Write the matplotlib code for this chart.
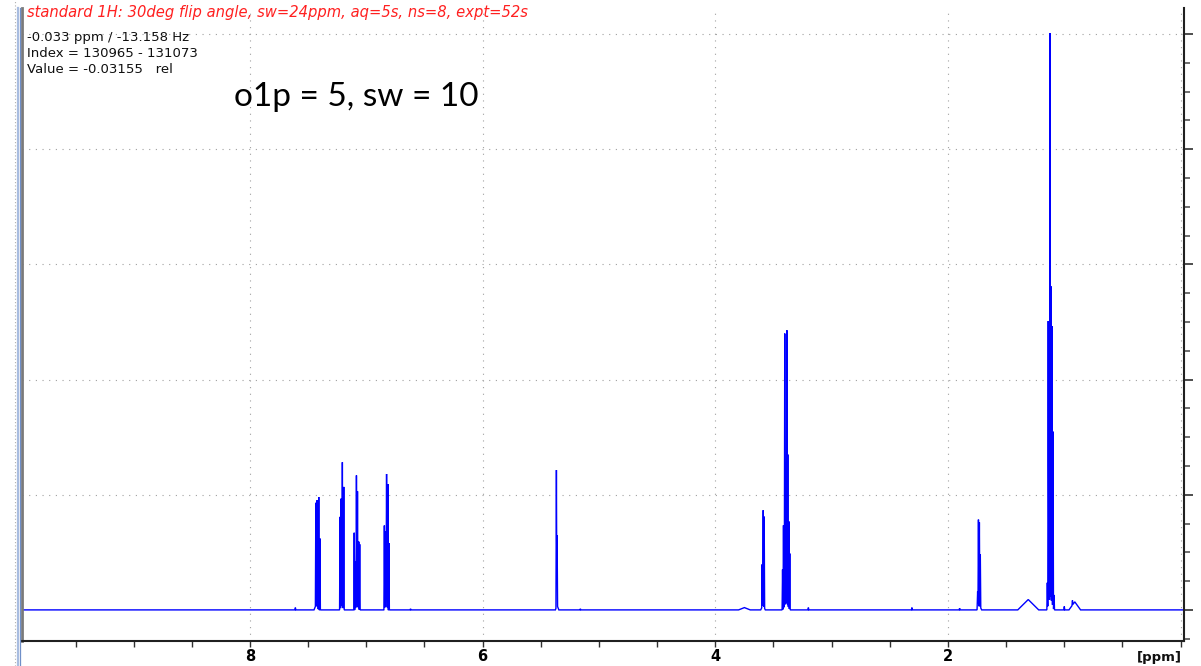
import numpy as np
import matplotlib
matplotlib.use("Agg")
import matplotlib.pyplot as plt
from matplotlib.ticker import MultipleLocator
from matplotlib.lines import Line2D

# --- spectrum data (chemical shift in ppm, intensity in relative units) ---
# sharp resonance lines (height above the broad foot underneath)
line_ppm = [
    7.610,
    7.434, 7.426, 7.418, 7.409, 7.399,
    7.226, 7.217, 7.206, 7.194,
    7.104, 7.096, 7.085, 7.076, 7.065, 7.057,
    6.845, 6.833, 6.826, 6.815, 6.806,
    6.620,
    5.366, 5.360,
    5.160,
    3.597, 3.588, 3.580,
    3.422, 3.414, 3.403, 3.394, 3.385, 3.377, 3.368, 3.360,
    3.200,
    2.310, 1.900,
    1.745, 1.738, 1.730, 1.722,
    1.146, 1.138, 1.132, 1.123, 1.115, 1.106, 1.097, 1.088,
    1.000, 0.930,
]
line_height = [
    0.02,
    0.89, 0.91, 0.93, 0.98, 0.62,
    0.80, 0.94, 1.25, 1.06,
    0.67, 0.41, 1.13, 0.99, 0.58, 0.57,
    0.72, 0.64, 1.14, 1.08, 0.58,
    0.01,
    1.19, 0.61,
    0.01,
    0.37, 0.83, 0.79,
    0.35, 0.72, 2.36, 1.22, 2.37, 1.31, 0.75, 0.49,
    0.02,
    0.02, 0.015,
    0.15, 0.76, 0.72, 0.46,
    0.22, 2.46, 1.28, 4.90, 2.71, 2.40, 1.52, 0.13,
    0.03, 0.04,
]

# broad features under and between the lines
hump_ppm = [7.43, 7.21, 7.08, 6.83, 5.36, 3.75, 3.59, 3.39, 1.73, 1.31, 1.12, 0.91]
hump_height = [0.05, 0.04, 0.05, 0.05, 0.04, 0.02, 0.04, 0.07, 0.04, 0.09, 0.12, 0.07]
hump_halfwidth = [0.02, 0.02, 0.02, 0.02, 0.015, 0.05, 0.02, 0.03, 0.02, 0.09, 0.03, 0.05]

line_halfwidth = 0.004

# x tick labels
major_ticks = [8, 6, 4, 2]
major_labels = ["8", "6", "4", "2"]

title_text = "standard 1H: 30deg flip angle, sw=24ppm, aq=5s, ns=8, expt=52s"
cursor_lines = ["-0.033 ppm / -13.158 Hz",
                "Index = 130965 - 131073",
                "Value = -0.03155   rel"]
note_text = "o1p = 5, sw = 10"

# --- build the trace as a sum of triangular line shapes ---
shapes = [(c, h, line_halfwidth) for c, h in zip(line_ppm, line_height)]
shapes += list(zip(hump_ppm, hump_height, hump_halfwidth))
knots = {10.0, -0.05}
for c, h, w in shapes:
    knots.update((c - w, c, c + w))
x = np.array(sorted(knots))
y = np.zeros_like(x)
for c, h, w in shapes:
    y += np.interp(x, [c - w, c, c + w], [0.0, h, 0.0])

W, H = 1201, 666
fig = plt.figure(figsize=(W / 100, H / 100), dpi=100)
fig.patch.set_facecolor("white")

L, R, B, T = 22, 1184, 641, 8
ax = fig.add_axes([L / W, 1 - B / H, (R - L) / W, (B - T) / H])
ax.plot(x, y, color="#0000ff", lw=1.0, solid_joinstyle="miter")
ax.set_xlim(9.96, -0.029)
ax.set_ylim(-0.27, 5.226)

# axes frame
ax.spines["top"].set_visible(False)
ax.spines["left"].set_color("#7a7a7a")
ax.spines["left"].set_linewidth(2.0)
ax.spines["bottom"].set_color("#202020")
ax.spines["bottom"].set_linewidth(1.5)
ax.spines["right"].set_color("#202020")
ax.spines["right"].set_linewidth(1.5)

# x axis ticks
ax.xaxis.set_minor_locator(MultipleLocator(0.5))
ax.set_xticks(major_ticks)
ax.set_xticklabels(major_labels, fontsize=10.5, fontweight="bold", family="DejaVu Sans")
ax.tick_params(axis="x", which="both", direction="out", length=4.3, width=1.0,
               color="#303030", pad=1.8)

# y axis ticks on the right side, no labels
ax.yaxis.tick_right()
ax.yaxis.set_major_locator(MultipleLocator(1))
ax.yaxis.set_minor_locator(MultipleLocator(0.25))
ax.tick_params(axis="y", which="major", direction="out", length=6.5, width=1.2,
               color="#303030", labelright=False)
ax.tick_params(axis="y", which="minor", direction="out", length=4.2, width=1.2,
               color="#555555")

# dotted grid
grid_kw = dict(color="#a0a0a0", lw=0.8, ls=(0, (1, 5)), zorder=0)
for gx in [10, 8, 6, 4, 2, 0]:
    ax.axvline(gx, **grid_kw)
for gy in [1, 2, 3, 4, 5]:
    ax.axhline(gy, **grid_kw)

# window edge decoration on the far left
fig.add_artist(Line2D([14.5 / W] * 2, [0, 1], color="#b0b0b0", lw=0.8,
                      ls=(0, (1, 2)), transform=fig.transFigure))
fig.add_artist(Line2D([17.5 / W] * 2, [0, 1 - T / H], color="#a9bde0", lw=1.6,
                      transform=fig.transFigure))
fig.add_artist(Line2D([20 / W] * 2, [0, 1 - T / H], color="#6f8fc8", lw=0.9,
                      transform=fig.transFigure))

def fx(px):
    return px / W

def fy(py):
    return 1 - py / H

fig.text(fx(27), fy(13), title_text, color="#ff2020", style="italic",
         fontsize=10.6, family="DejaVu Sans", va="center", ha="left")
for i, s in enumerate(cursor_lines):
    fig.text(fx(27), fy(37 + i * 16.3), s, color="#101010", fontsize=9.5,
             family="DejaVu Sans", va="center", ha="left")
fig.text(fx(234), fy(97), note_text, color="black", fontsize=24,
         family="Lato", va="center", ha="left")
fig.text(fx(1182), fy(657), "[ppm]", color="#101010", fontsize=9.5,
         fontweight="bold", family="DejaVu Sans", va="center", ha="right")

fig.savefig("out.png", dpi=100)
